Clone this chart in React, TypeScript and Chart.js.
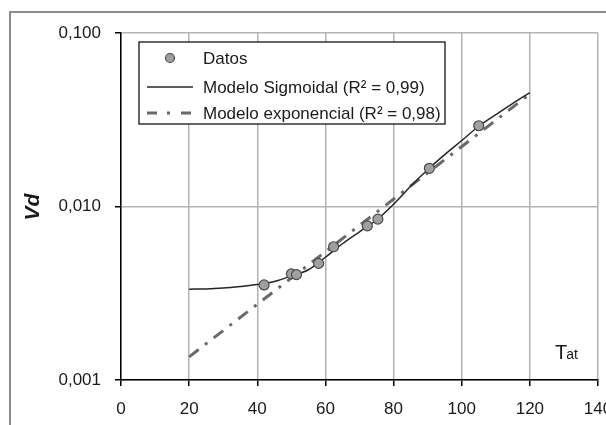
import { useEffect, useRef } from 'react';
import { Chart, registerables } from 'chart.js';

Chart.register(...registerables);

// Measured points
const tatDatos = [42, 50, 51.5, 58, 62.4, 72.3, 75.4, 90.5, 105];
const vdDatos = [0.00353, 0.00409, 0.00405, 0.0047, 0.00586, 0.00773, 0.00846, 0.0166, 0.0292];

// Sigmoidal model curve
const tatSigmoidal = [20, 25, 30, 35, 40, 45, 50, 55, 60, 65, 70, 75, 80, 85, 90, 95, 100, 105, 110, 115, 120];
const vdSigmoidal = [
  0.00334, 0.00335, 0.00339, 0.00346, 0.00355, 0.0037, 0.00398, 0.00432, 0.0051, 0.0061, 0.00715,
  0.00836, 0.0103, 0.0131, 0.0163, 0.0199, 0.024, 0.029, 0.0338, 0.0393, 0.0453,
];

// Exponential model (straight on a log axis)
const tatExponencial = [20, 120];
const vdExponencial = [0.00136, 0.0445];

const ticksY = [0.001, 0.01, 0.1];
const etiquetasY = ['0,001', '0,010', '0,100'];

const nombres = ['Datos', 'Modelo Sigmoidal (R² = 0,99)', 'Modelo exponencial (R² = 0,98)'];

const FUENTE = '"Liberation Sans", Arial, sans-serif';
const TEXTO = '#1a1a1a';

const toXY = (xs: number[], ys: number[]) => xs.map((x, i) => ({ x, y: ys[i] }));

const decorado = {
  id: 'decorado',
  beforeDraw(chart: any) {
    const { ctx, width, height } = chart;
    ctx.save();
    ctx.fillStyle = '#ffffff';
    ctx.fillRect(0, 0, width, height);
    ctx.strokeStyle = '#8c8c8c';
    ctx.lineWidth = 2;
    ctx.beginPath();
    ctx.moveTo(10, height);
    ctx.lineTo(10, 12);
    ctx.lineTo(width, 12);
    ctx.stroke();
    ctx.restore();
  },
  afterDatasetsDraw(chart: any) {
    const { ctx, chartArea } = chart;
    const ds = chart.data.datasets;
    ctx.save();
    // legend box
    const bx = chartArea.left + 18;
    const by = chartArea.top + 9;
    const bw = 306;
    const bh = 82;
    ctx.fillStyle = '#ffffff';
    ctx.fillRect(bx, by, bw, bh);
    ctx.strokeStyle = '#000';
    ctx.lineWidth = 1.2;
    ctx.strokeRect(bx, by, bw, bh);

    const rows = [by + 16, by + 45, by + 71];
    const sx0 = bx + 8;
    const sx1 = bx + 54;
    const tx = bx + 64;

    // Datos marker
    ctx.beginPath();
    ctx.arc((sx0 + sx1) / 2, rows[0], 4.5, 0, Math.PI * 2);
    ctx.fillStyle = ds[0].backgroundColor;
    ctx.fill();
    ctx.lineWidth = ds[0].borderWidth;
    ctx.strokeStyle = ds[0].borderColor;
    ctx.stroke();

    // sigmoidal line
    ctx.beginPath();
    ctx.moveTo(sx0, rows[1]);
    ctx.lineTo(sx1, rows[1]);
    ctx.lineWidth = ds[1].borderWidth;
    ctx.strokeStyle = ds[1].borderColor;
    ctx.stroke();

    // exponential line
    ctx.beginPath();
    ctx.setLineDash([10, 10, 3, 11]);
    ctx.moveTo(sx0, rows[2]);
    ctx.lineTo(sx1, rows[2]);
    ctx.lineWidth = ds[2].borderWidth;
    ctx.strokeStyle = ds[2].borderColor;
    ctx.stroke();
    ctx.setLineDash([]);

    ctx.fillStyle = TEXTO;
    ctx.font = `17px ${FUENTE}`;
    ctx.textBaseline = 'middle';
    ctx.textAlign = 'left';
    nombres.forEach((n, i) => ctx.fillText(n, tx, rows[i] + 1));
    ctx.restore();
  },
  afterDraw(chart: any) {
    const { ctx } = chart;
    ctx.save();
    ctx.fillStyle = TEXTO;
    // y title
    ctx.translate(33, 207);
    ctx.rotate(-Math.PI / 2);
    ctx.font = `italic bold 21px ${FUENTE}`;
    ctx.textAlign = 'center';
    ctx.textBaseline = 'middle';
    ctx.fillText('Vd', 0, 0);
    ctx.restore();

    // x title with subscript
    ctx.save();
    ctx.fillStyle = TEXTO;
    ctx.textBaseline = 'alphabetic';
    ctx.textAlign = 'left';
    ctx.font = `20px ${FUENTE}`;
    ctx.fillText('T', 555, 359);
    const w = ctx.measureText('T').width;
    ctx.font = `14px ${FUENTE}`;
    ctx.fillText('at', 555 + w - 1, 359);
    ctx.restore();
  },
};

export default function App() {
  const ref = useRef<HTMLCanvasElement | null>(null);

  useEffect(() => {
    if (!ref.current) return;
    Chart.defaults.font.family = FUENTE;
    const grid = {
      color: '#b4b4b4',
      lineWidth: 1.5,
      tickColor: '#000',
      tickLength: 6,
      tickWidth: 1.5,
    };
    const chart = new Chart(ref.current, {
      type: 'scatter',
      data: {
        datasets: [
          {
            label: nombres[0],
            data: toXY(tatDatos, vdDatos),
            pointRadius: 5,
            backgroundColor: '#a0a0a0',
            borderColor: '#4a4a4a',
            borderWidth: 1.2,
            showLine: false,
          },
          {
            label: nombres[1],
            data: toXY(tatSigmoidal, vdSigmoidal),
            showLine: true,
            pointRadius: 0,
            borderColor: '#262626',
            borderWidth: 1.5,
            cubicInterpolationMode: 'monotone',
          },
          {
            label: nombres[2],
            data: toXY(tatExponencial, vdExponencial),
            showLine: true,
            pointRadius: 0,
            borderColor: '#6a6a6a',
            borderWidth: 3,
            borderDash: [12, 8, 3, 8],
          },
        ],
      } as any,
      options: {
        animation: false,
        responsive: false,
        devicePixelRatio: 1,
        layout: { padding: { left: 0, top: 33, right: 8, bottom: 0 } },
        plugins: { legend: { display: false }, tooltip: { enabled: false } },
        scales: {
          x: {
            type: 'linear',
            min: 0,
            max: 140,
            ticks: { stepSize: 20, color: TEXTO, font: { size: 17 }, padding: 13, maxRotation: 0 },
            grid,
            border: { color: '#000', width: 1.5 },
            afterFit(s: any) {
              s.height = 45;
              s.paddingLeft = 0;
              s.paddingRight = 0;
            },
          },
          y: {
            type: 'logarithmic',
            min: 0.001,
            max: 0.1,
            afterBuildTicks(s: any) {
              s.ticks = ticksY.map((v) => ({ value: v }));
            },
            ticks: {
              color: TEXTO,
              font: { size: 17 },
              padding: 14,
              callback: (_v: any, i: number) => etiquetasY[i],
            },
            grid,
            border: { color: '#000', width: 1.5 },
            afterFit(s: any) {
              s.width = 121;
              s.paddingTop = 0;
              s.paddingBottom = 0;
            },
          },
        },
      } as any,
      plugins: [decorado],
    });
    return () => chart.destroy();
  }, []);

  return (
    <div style={{ position: 'fixed', left: 0, top: 0, width: 606, height: 425, background: '#fff' }}>
      <canvas ref={ref} width={606} height={425} style={{ display: 'block', width: 606, height: 425 }} />
    </div>
  );
}
